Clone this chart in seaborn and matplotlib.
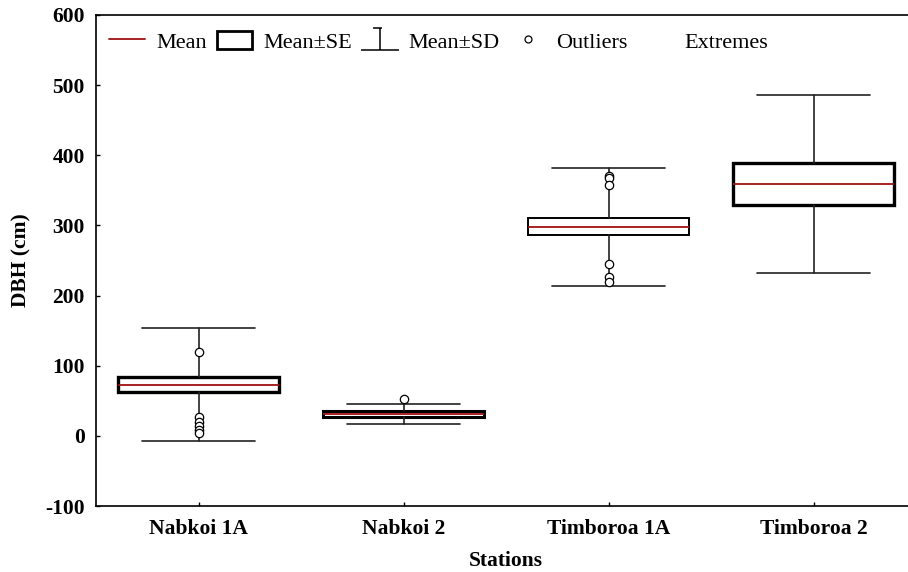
import matplotlib
matplotlib.use("Agg")
import matplotlib.pyplot as plt
from matplotlib.lines import Line2D
from matplotlib.patches import Rectangle
from matplotlib.path import Path
import seaborn as sns

# Summary statistics of tree diameter at breast height per station
stations = ["Nabkoi 1A", "Nabkoi 2", "Timboroa 1A", "Timboroa 2"]
mean_dbh = [73, 31, 298, 359]
se_dbh = [11, 4.5, 12, 29.5]
sd_dbh = [81, 14.5, 84.5, 127]

# Individual outlying trees
outlier_station = ["Nabkoi 1A"] * 6 + ["Nabkoi 2"] + ["Timboroa 1A"] * 6
outlier_dbh = [120, 27, 20, 14, 8, 4, 52, 371, 368, 358, 245, 227, 220]

y_ticks = [-100, 0, 100, 200, 300, 400, 500, 600]

sns.set_theme(style="ticks")
plt.rcParams["font.family"] = ["Liberation Serif", "DejaVu Serif"]
plt.rcParams["axes.unicode_minus"] = False
plt.rcParams["text.color"] = "black"
plt.rcParams["axes.labelcolor"] = "black"

fig = plt.figure(figsize=(9.08, 5.72), dpi=100)
ax = fig.add_axes([96 / 908, 66 / 572, 820 / 908, 491 / 572])

# Outliers on the categorical axis
sns.stripplot(x=outlier_station, y=outlier_dbh, order=stations, jitter=False,
              marker="o", size=6, color="white", edgecolor="black",
              linewidth=0.9, ax=ax, zorder=5)

# Boxes: mean ± SE, whiskers: mean ± SD, line: mean
stats = []
for name, m, se, sd in zip(stations, mean_dbh, se_dbh, sd_dbh):
    stats.append(dict(label=name, med=m, q1=m - se, q3=m + se,
                      whislo=m - sd, whishi=m + sd, fliers=[]))

parts = ax.bxp(stats, positions=range(len(stations)), widths=0.79, capwidths=0.556,
               showfliers=False, patch_artist=True, manage_ticks=False,
               boxprops=dict(facecolor="white", edgecolor="black", linewidth=2.0),
               medianprops=dict(color="#a01010", linewidth=1.3),
               whiskerprops=dict(color="#222222", linewidth=1.2),
               capprops=dict(color="#222222", linewidth=1.2))
for box, lw in zip(parts["boxes"], [2.4, 2.2, 1.4, 2.4]):
    box.set_linewidth(lw)

ax.set_xlim(-0.5, len(stations) - 0.5)
ax.set_ylim(-100, 600)
ax.set_yticks(y_ticks)
ax.set_xticks(range(len(stations)))
ax.set_xticklabels(stations)

for s in ax.spines.values():
    s.set_color("black")
    s.set_linewidth(1.2)
    s.set_visible(True)

ax.tick_params(axis="y", direction="in", length=3, width=1, pad=8,
               labelsize=15.5, colors="black")
ax.tick_params(axis="x", direction="in", length=3, width=1, pad=9,
               labelsize=15.5, colors="black")
for lab in ax.get_xticklabels() + ax.get_yticklabels():
    lab.set_fontweight("bold")

ax.set_xlabel("Stations", fontsize=15.5, fontweight="bold", labelpad=9)
ax.set_ylabel("DBH (cm)", fontsize=15.5, fontweight="bold", labelpad=10)
ax.grid(False)

# Legend handles
sd_marker = Path([(-1, -0.6), (1, -0.6), (0, -0.6), (0, 0.6), (-0.35, 0.6), (0.1, 0.6)],
                 [Path.MOVETO, Path.LINETO, Path.MOVETO, Path.LINETO, Path.MOVETO, Path.LINETO])
handles = [
    Line2D([], [], color="#a01010", linewidth=1.3),
    Rectangle((0, 0), 1, 1, facecolor="white", edgecolor="black", linewidth=2.0),
    Line2D([], [], linestyle="none", marker=sd_marker, markersize=27,
           markeredgecolor="black", markeredgewidth=1.1, markerfacecolor="none"),
    Line2D([], [], linestyle="none", marker="o", markersize=5,
           markerfacecolor="white", markeredgecolor="black", markeredgewidth=0.9),
    Line2D([], [], linestyle="none"),
]
labels = ["Mean", "Mean\u00b1SE", "Mean\u00b1SD", "Outliers", "Extremes"]
ax.legend(handles, labels, ncol=5, loc="upper left", bbox_to_anchor=(0.0, 0.995),
          frameon=False, fontsize=16, handlelength=1.6, handleheight=0.9,
          handletextpad=0.5, columnspacing=0.45, borderaxespad=0.2)

fig.savefig("out.png", dpi=100)
